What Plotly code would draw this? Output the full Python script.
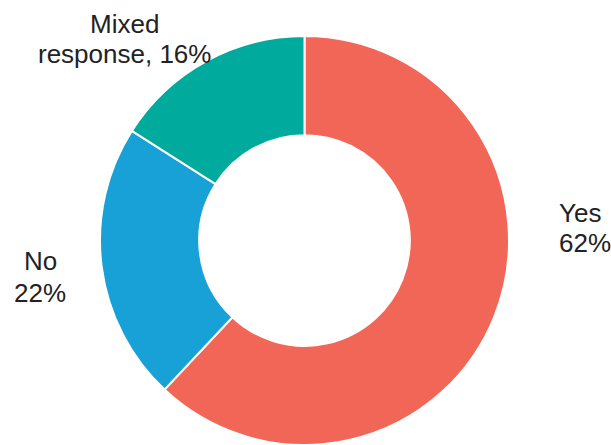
import plotly.graph_objects as go

# Survey answers and their shares (%)
labels = ["Yes", "No", "Mixed response"]
shares = [62, 22, 16]
colors = ["#F26657", "#17A1D6", "#00AB9D"]

W, H = 611, 445

fig = go.Figure(
    go.Pie(
        labels=labels,
        values=shares,
        sort=False,
        direction="clockwise",
        rotation=0,
        hole=0.515,
        marker=dict(colors=colors, line=dict(color="white", width=2)),
        textinfo="none",
        hoverinfo="label+percent",
        domain=dict(x=[100 / W, 509 / W], y=[0, (H - 36) / H]),
        showlegend=False,
    )
)

# Category labels around the ring, one annotation per text line
label_lines = {
    "Yes": [labels[0], f"{shares[0]}%"],
    "No": [labels[1], f"{shares[1]}%"],
    "Mixed response": ["Mixed", f"response, {shares[2]}%"],
}
label_pos = {
    "Yes": dict(x=557, ys=[213, 243], xanchor="left"),
    "No": dict(x=40, ys=[261, 293], xanchor="center"),
    "Mixed response": dict(x=124, ys=[24, 54], xanchor="center"),
}
for name in labels:
    p = label_pos[name]
    for line, yp in zip(label_lines[name], p["ys"]):
        fig.add_annotation(
            text=line,
            xref="paper", yref="paper",
            x=p["x"] / W, y=1 - yp / H,
            xanchor=p["xanchor"], yanchor="middle",
            showarrow=False,
            font=dict(family="Liberation Sans, Arial, sans-serif", size=26, color="#222222"),
        )

fig.update_layout(
    width=W,
    height=H,
    margin=dict(l=0, r=0, t=0, b=0),
    paper_bgcolor="white",
    plot_bgcolor="white",
)

fig.write_html("out.html")
